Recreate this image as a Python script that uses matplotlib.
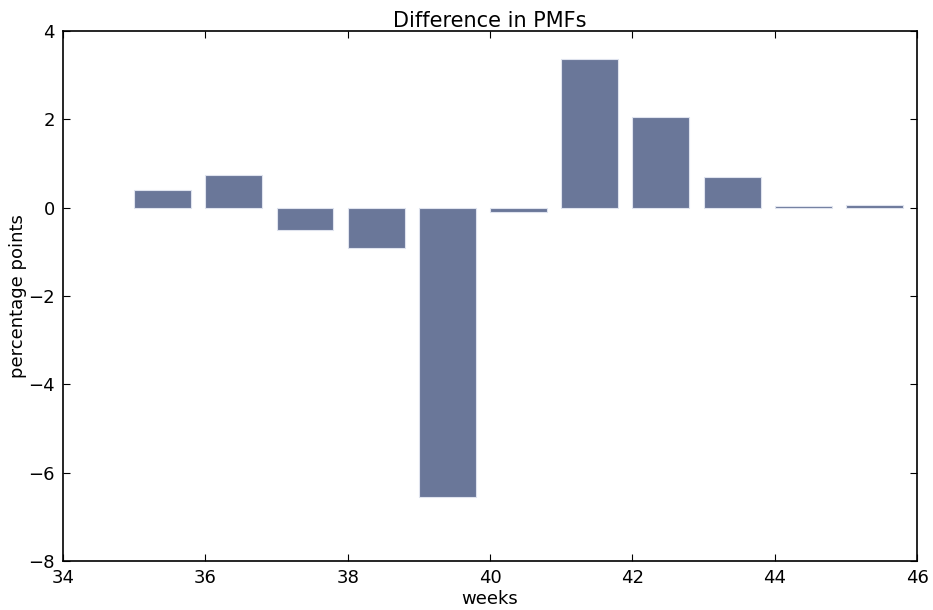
import matplotlib
matplotlib.use('Agg')
import matplotlib.pyplot as plt

# データ
weeks = [35, 36, 37, 38, 39, 40, 41, 42, 43, 44, 45]
diffs = [0.40, 0.75, -0.50, -0.91, -6.55, -0.10, 3.37, 2.05, 0.69, 0.04, 0.06]

fig = plt.figure(figsize=(9.33, 6.1), dpi=100)
ax = fig.add_axes([0.0675, 0.0803, 0.9155, 0.8687])

ax.bar(weeks, diffs, width=0.8, align='edge', color='#6a7799',
       edgecolor='#dfe3ee', linewidth=0.8)

ax.set_xlim(34, 46)
ax.set_ylim(-8, 4)
ax.set_xticks(range(34, 47, 2))
ax.set_yticks(range(-8, 5, 2))
ax.tick_params(direction='in', top=True, right=True, labelsize=13, length=5, pad=6)
for s in ax.spines.values():
    s.set_linewidth(1.2)

ax.set_title('Difference in PMFs', fontsize=15, pad=3)
ax.set_xlabel('weeks', fontsize=13, labelpad=2)
ax.set_ylabel('percentage points', fontsize=13, labelpad=1)

fig.savefig('out.png', dpi=100)
